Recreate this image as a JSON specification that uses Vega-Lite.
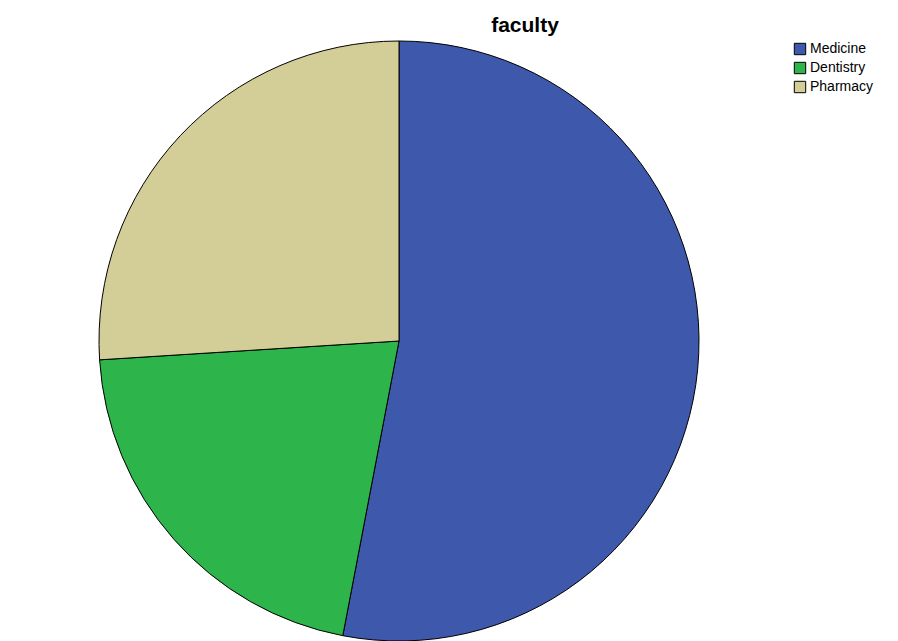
{
  "$schema": "https://vega.github.io/schema/vega-lite/v6.json",
  "autosize": {"type": "none"},
  "padding": {"left": 0, "top": 0, "right": 100, "bottom": 0},
  "width": 798,
  "height": 682,
  "background": "white",
  "title": {
    "text": "faculty",
    "font": "Liberation Sans",
    "fontSize": 21,
    "fontWeight": "bold",
    "color": "black",
    "anchor": "middle",
    "orient": "top",
    "offset": 0,
    "baseline": "alphabetic",
    "dx": 126,
    "dy": 53
  },
  "data": {
    "values": [
      {"faculty": "Medicine", "n": 1, "count": 53},
      {"faculty": "Dentistry", "n": 2, "count": 21},
      {"faculty": "Pharmacy", "n": 3, "count": 26}
    ]
  },
  "mark": {"type": "arc", "outerRadius": 300, "stroke": "black", "strokeWidth": 1},
  "encoding": {
    "theta": {"field": "count", "type": "quantitative", "stack": true},
    "order": {"field": "n", "type": "quantitative"},
    "color": {
      "field": "faculty",
      "type": "nominal",
      "sort": ["Medicine", "Dentistry", "Pharmacy"],
      "scale": {"domain": ["Medicine", "Dentistry", "Pharmacy"], "range": ["#3e58ab", "#2db44a", "#d3ce97"]},
      "legend": {
        "title": null,
        "orient": "none",
        "legendX": 793,
        "legendY": 42,
        "symbolType": "square",
        "symbolSize": 130,
        "symbolStrokeColor": "black",
        "symbolStrokeWidth": 1,
        "symbolOpacity": 1,
        "labelFont": "Liberation Sans",
        "labelFontSize": 14,
        "labelColor": "black",
        "rowPadding": 3,
        "labelOffset": 3
      }
    }
  }
}
